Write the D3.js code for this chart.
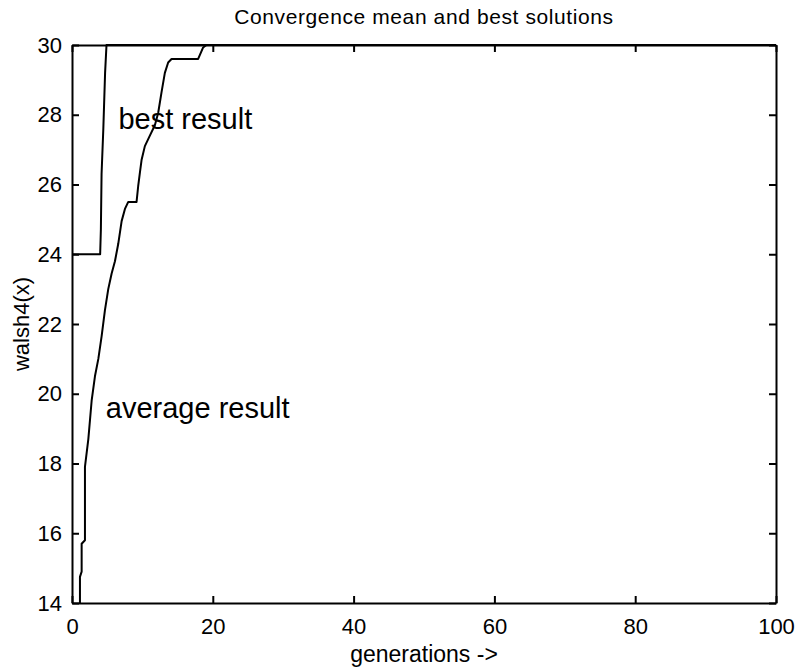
<!DOCTYPE HTML>
<html>
<head>
<meta charset="utf-8">
<title>Convergence mean and best solutions</title>
<script src="https://d3js.org/d3.v7.min.js"></script>
<style>
body { margin: 0; background: #fff; }
svg text { font-family: Arial, "Liberation Sans", Helvetica, sans-serif; fill: #000; }
.axis path, .axis line { stroke: #000; stroke-width: 2; }
.axis text { font-size: 22px; }
</style>
</head>
<body>
<script>
// values
const bestGen = [0, 4.0, 4.1, 4.2, 4.45, 4.7, 4.9, 100];
const bestVal = [24, 24, 24.7, 26.3, 27.6, 29.2, 30, 30];

const avgGen = [1.13, 1.13, 1.37, 1.37, 1.84, 1.84, 2.32, 2.79, 3.26, 3.74, 4.21, 4.68, 5.15, 5.63,
  6.10, 6.57, 7.05, 7.52, 7.99, 9.17, 9.40, 9.65, 9.88, 10.35, 11.06, 11.77, 12.24, 12.72,
  13.19, 13.66, 14.14, 17.92, 18.63, 19.1, 100];
const avgVal = [14, 14.75, 14.9, 15.7, 15.8, 17.9, 18.7, 19.8, 20.5, 21.0, 21.65, 22.4, 23.0, 23.45,
  23.8, 24.3, 24.95, 25.3, 25.5, 25.5, 25.95, 26.35, 26.7, 27.1, 27.4, 27.7, 28.05, 28.65,
  29.2, 29.5, 29.6, 29.6, 29.93, 30, 30];

const xTicks = [0, 20, 40, 60, 80, 100];
const yTicks = [14, 16, 18, 20, 22, 24, 26, 28, 30];

const labels = [
  {text: "best result", gen: 6.6, val: 27.6},
  {text: "average result", gen: 4.8, val: 19.3}
];

const width = 799, height = 668;
const margin = {top: 45, right: 23, bottom: 65, left: 72};

const svg = d3.select("body").append("svg")
    .attr("width", width)
    .attr("height", height);

const x = d3.scaleLinear().domain([0, 100]).range([margin.left, width - margin.right]);
const y = d3.scaleLinear().domain([14, 30]).range([height - margin.bottom, margin.top]);

svg.append("defs").append("clipPath").attr("id", "plot")
  .append("rect")
    .attr("x", margin.left).attr("y", margin.top - 1)
    .attr("width", x(100) - x(0)).attr("height", y(14) - y(30) + 2);

// box with inward ticks on all four sides
svg.append("g").attr("class", "axis")
    .attr("transform", `translate(0,${height - margin.bottom})`)
    .call(d3.axisBottom(x).tickValues(xTicks).tickSize(-7).tickPadding(15).tickSizeOuter(0));
svg.append("g").attr("class", "axis")
    .attr("transform", `translate(0,${margin.top})`)
    .call(d3.axisTop(x).tickValues(xTicks).tickSize(-7).tickFormat("").tickSizeOuter(0));
svg.append("g").attr("class", "axis")
    .attr("transform", `translate(${margin.left},0)`)
    .call(d3.axisLeft(y).tickValues(yTicks).tickSize(-7).tickPadding(10).tickSizeOuter(0));
svg.append("g").attr("class", "axis")
    .attr("transform", `translate(${width - margin.right},0)`)
    .call(d3.axisRight(y).tickValues(yTicks).tickSize(-7).tickFormat("").tickSizeOuter(0));

svg.selectAll(".axis .domain").attr("stroke-width", 2);

const line = d3.line().x(d => x(d[0])).y(d => y(d[1]));

const series = [d3.zip(bestGen, bestVal), d3.zip(avgGen, avgVal)];

svg.append("g").attr("clip-path", "url(#plot)")
  .selectAll("path")
  .data(series)
  .join("path")
    .attr("d", line)
    .attr("fill", "none")
    .attr("stroke", "#000")
    .attr("stroke-width", 2)
    .attr("stroke-linejoin", "round");

svg.selectAll(".note")
  .data(labels)
  .join("text")
    .attr("class", "note")
    .attr("x", d => x(d.gen))
    .attr("y", d => y(d.val))
    .style("font-size", "29px")
    .text(d => d.text);

svg.append("text")
    .attr("x", (x(0) + x(100)) / 2)
    .attr("y", 24)
    .attr("text-anchor", "middle")
    .style("font-size", "21px")
    .style("letter-spacing", "0.6px")
    .text("Convergence mean and best solutions");

svg.append("text")
    .attr("x", (x(0) + x(100)) / 2)
    .attr("y", 662)
    .attr("text-anchor", "middle")
    .style("font-size", "23px")
    .text("generations ->");

svg.append("text")
    .attr("transform", `translate(29,${(y(14) + y(30)) / 2}) rotate(-90)`)
    .attr("text-anchor", "middle")
    .style("font-size", "22px")
    .text("walsh4(x)");
</script>
</body>
</html>
